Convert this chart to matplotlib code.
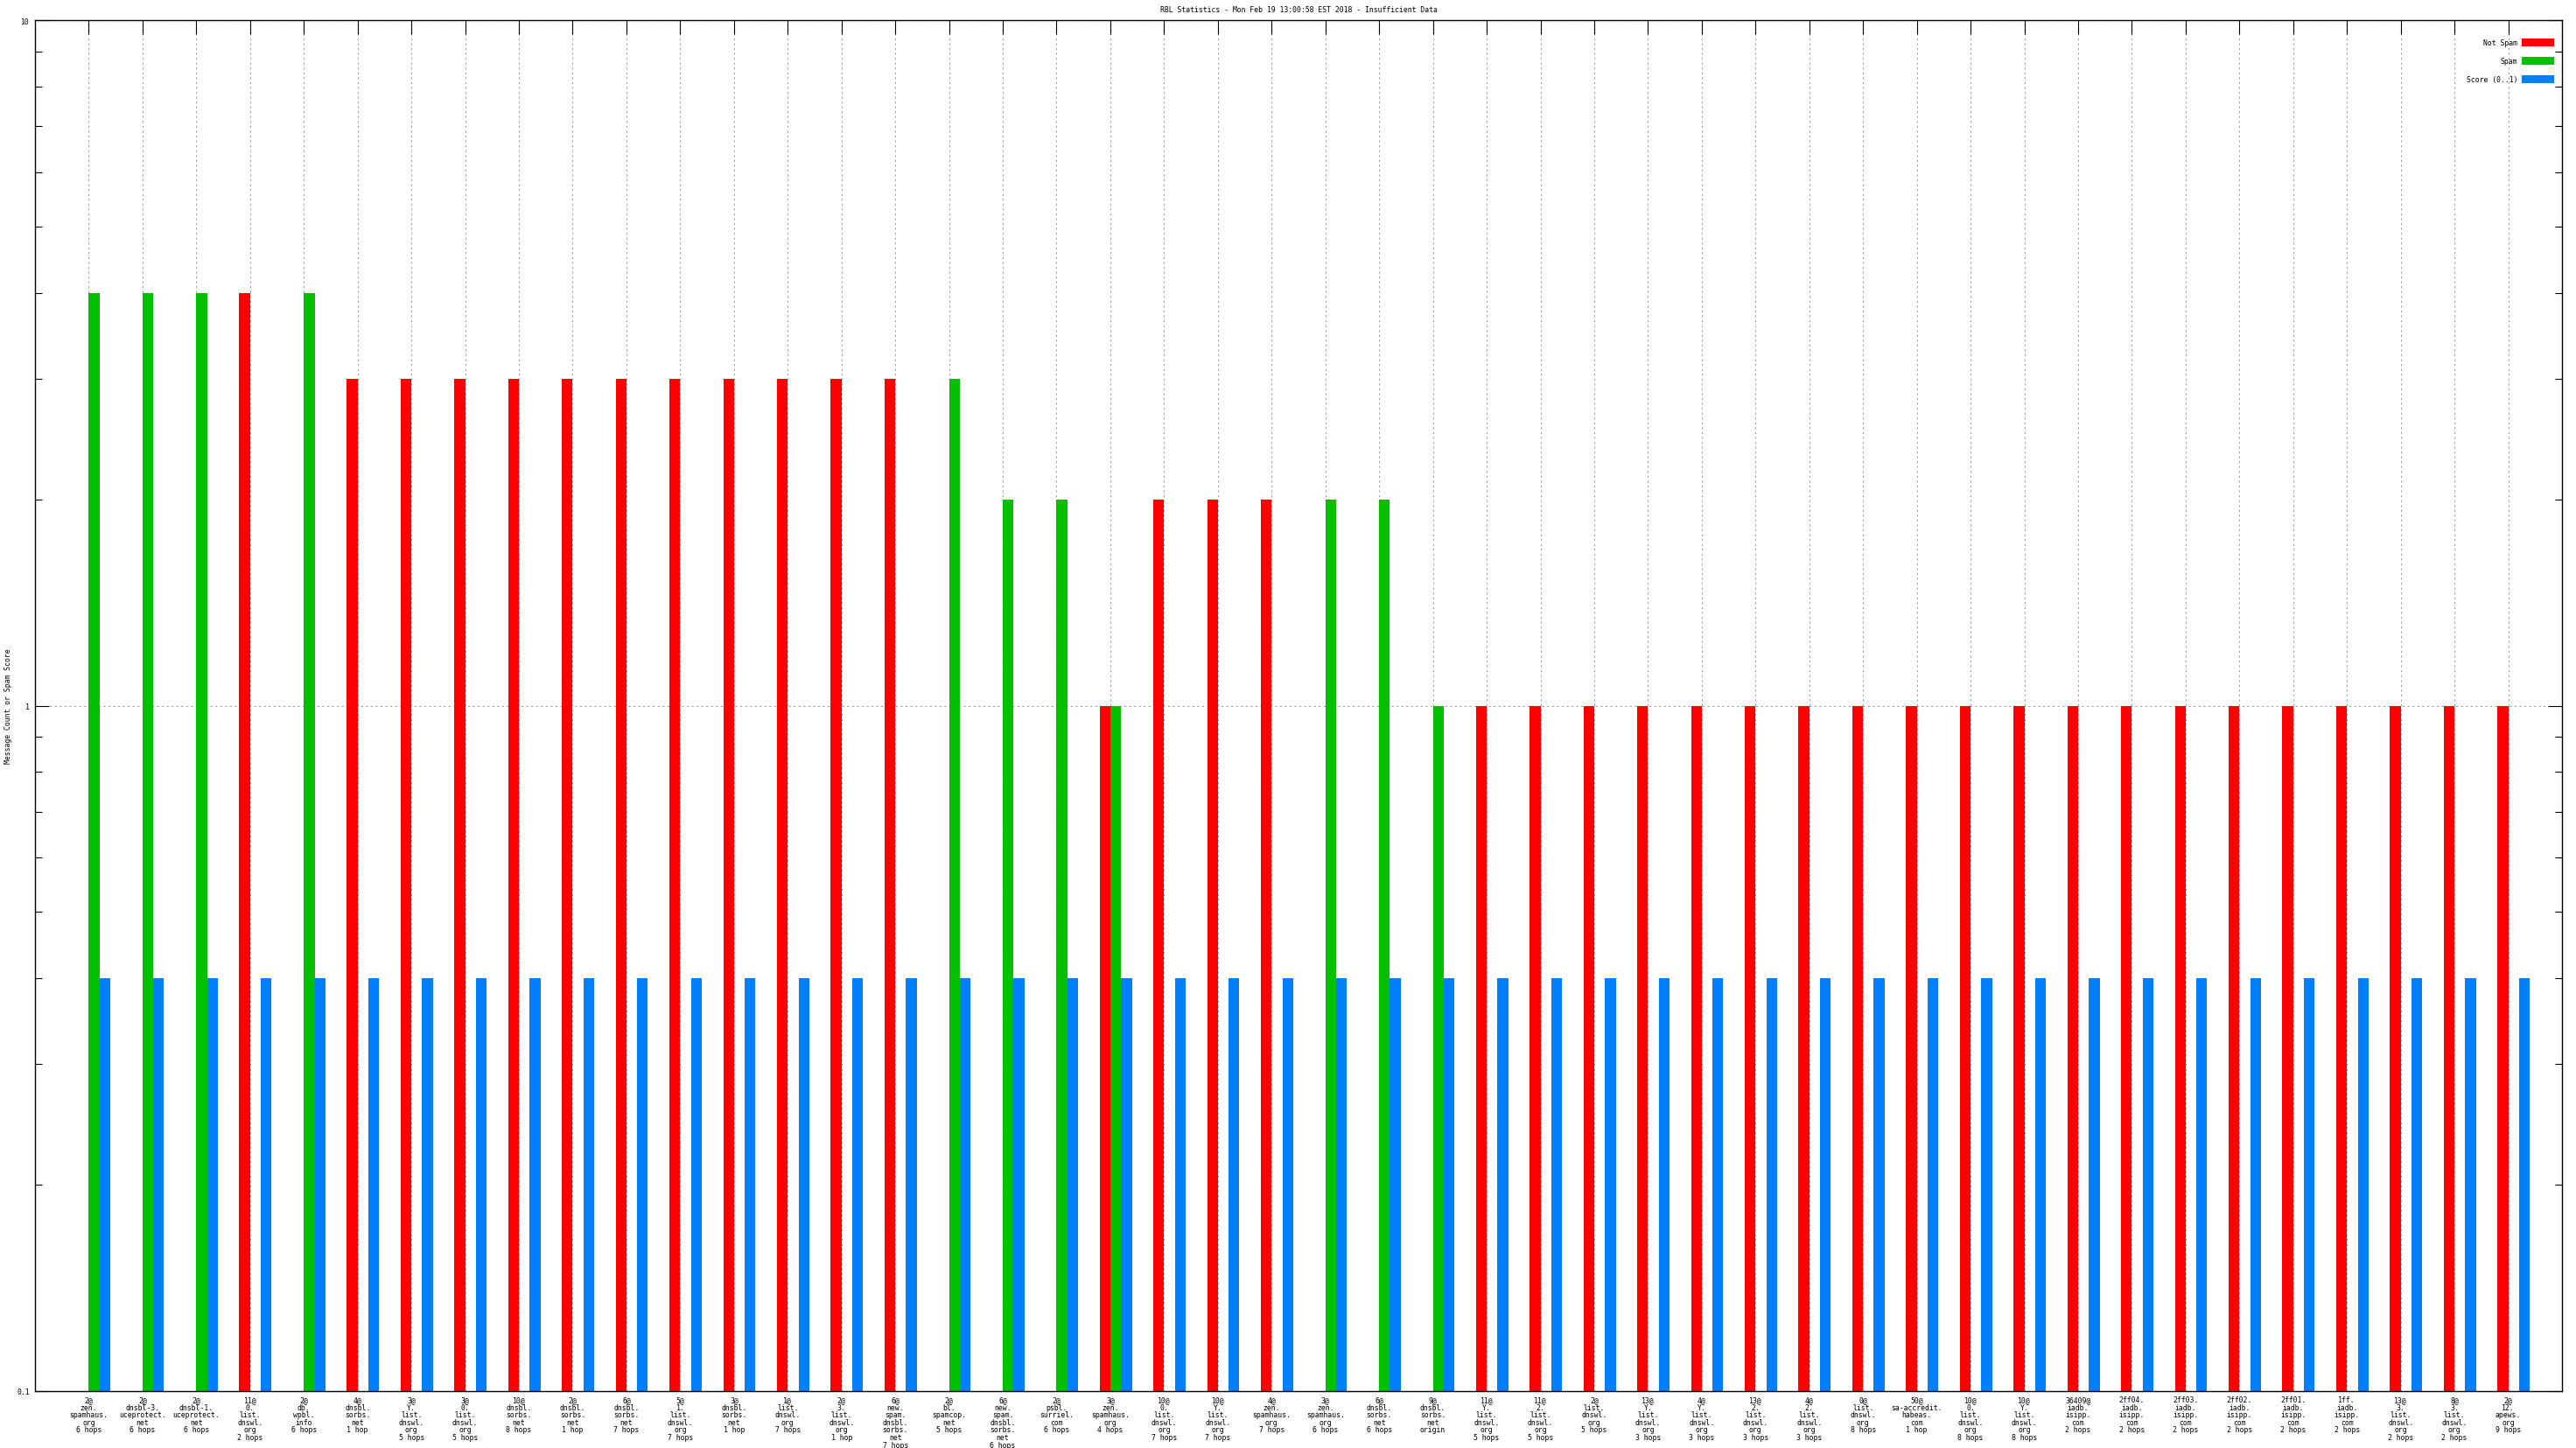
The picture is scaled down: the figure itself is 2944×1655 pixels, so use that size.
import numpy as np
import matplotlib
matplotlib.use("Agg")
import matplotlib.pyplot as plt
from matplotlib.ticker import FixedLocator, LogLocator, NullFormatter

# ---------------- data ----------------
categories = [
    "2@\nzen.\nspamhaus.\norg\n6 hops",
    "2@\ndnsbl-3.\nuceprotect.\nnet\n6 hops",
    "2@\ndnsbl-1.\nuceprotect.\nnet\n6 hops",
    "11@\n0.\nlist.\ndnswl.\norg\n2 hops",
    "2@\ndb.\nwpbl.\ninfo\n6 hops",
    "4@\ndnsbl.\nsorbs.\nnet\n1 hop",
    "3@\nY.\nlist.\ndnswl.\norg\n5 hops",
    "3@\n0.\nlist.\ndnswl.\norg\n5 hops",
    "10@\ndnsbl.\nsorbs.\nnet\n8 hops",
    "2@\ndnsbl.\nsorbs.\nnet\n1 hop",
    "6@\ndnsbl.\nsorbs.\nnet\n7 hops",
    "5@\n1.\nlist.\ndnswl.\norg\n7 hops",
    "3@\ndnsbl.\nsorbs.\nnet\n1 hop",
    "1@\nlist.\ndnswl.\norg\n7 hops",
    "2@\n3.\nlist.\ndnswl.\norg\n1 hop",
    "6@\nnew.\nspam.\ndnsbl.\nsorbs.\nnet\n7 hops",
    "2@\nbl.\nspamcop.\nnet\n5 hops",
    "6@\nnew.\nspam.\ndnsbl.\nsorbs.\nnet\n6 hops",
    "2@\npsbl.\nsurriel.\ncom\n6 hops",
    "3@\nzen.\nspamhaus.\norg\n4 hops",
    "10@\n0.\nlist.\ndnswl.\norg\n7 hops",
    "10@\nY.\nlist.\ndnswl.\norg\n7 hops",
    "4@\nzen.\nspamhaus.\norg\n7 hops",
    "3@\nzen.\nspamhaus.\norg\n6 hops",
    "6@\ndnsbl.\nsorbs.\nnet\n6 hops",
    "9@\ndnsbl.\nsorbs.\nnet\norigin",
    "11@\nY.\nlist.\ndnswl.\norg\n5 hops",
    "11@\n2.\nlist.\ndnswl.\norg\n5 hops",
    "2@\nlist.\ndnswl.\norg\n5 hops",
    "13@\nY.\nlist.\ndnswl.\norg\n3 hops",
    "4@\nY.\nlist.\ndnswl.\norg\n3 hops",
    "13@\n2.\nlist.\ndnswl.\norg\n3 hops",
    "4@\n2.\nlist.\ndnswl.\norg\n3 hops",
    "0@\nlist.\ndnswl.\norg\n8 hops",
    "50@\nsa-accredit.\nhabeas.\ncom\n1 hop",
    "10@\n0.\nlist.\ndnswl.\norg\n8 hops",
    "10@\nY.\nlist.\ndnswl.\norg\n8 hops",
    "36409@\niadb.\nisipp.\ncom\n2 hops",
    "2ff04.\niadb.\nisipp.\ncom\n2 hops",
    "2ff03.\niadb.\nisipp.\ncom\n2 hops",
    "2ff02.\niadb.\nisipp.\ncom\n2 hops",
    "2ff01.\niadb.\nisipp.\ncom\n2 hops",
    "1ff.\niadb.\nisipp.\ncom\n2 hops",
    "13@\n3.\nlist.\ndnswl.\norg\n2 hops",
    "8@\n3.\nlist.\ndnswl.\norg\n2 hops",
    "2@\n12.\napews.\norg\n9 hops",
]

not_spam = [0, 0, 0, 4, 0, 3, 3, 3, 3, 3, 3, 3, 3, 3, 3, 3,
            0, 0, 0, 1, 2, 2, 2, 0, 0, 0,
            1, 1, 1, 1, 1, 1, 1, 1, 1, 1, 1, 1, 1, 1, 1, 1, 1, 1, 1, 1]
spam = [4, 4, 4, 0, 4, 0, 0, 0, 0, 0, 0, 0, 0, 0, 0, 0,
        3, 2, 2, 1, 0, 0, 0, 2, 2, 1,
        0, 0, 0, 0, 0, 0, 0, 0, 0, 0, 0, 0, 0, 0, 0, 0, 0, 0, 0, 0]
score = [0.4, 0.4, 0.4, 0.4, 0.4, 0.4, 0.4, 0.4, 0.4, 0.4, 0.4, 0.4,
         0.4, 0.4, 0.4, 0.4, 0.4, 0.4, 0.4, 0.4, 0.4, 0.4, 0.4, 0.4,
         0.4, 0.4, 0.4, 0.4, 0.4, 0.4, 0.4, 0.4, 0.4, 0.4, 0.4, 0.4,
         0.4, 0.4, 0.4, 0.4, 0.4, 0.4, 0.4, 0.4, 0.4, 0.4]

series_names = ["Not Spam", "Spam", "Score (0..1)"]
y_ticks = [0.1, 1, 10]
y_tick_labels = ["0.1", "1", "10"]
title = "RBL Statistics - Mon Feb 19 13:00:58 EST 2018 - Insufficient Data"
y_label = "Message Count or Spam Score"

# ---------------- style ----------------
FONT = "DejaVu Sans Mono"
FS = 5.9
plt.rcParams["font.family"] = [FONT, "DejaVu Sans"]
plt.rcParams["font.size"] = FS

W, H, DPI = 2944, 1656, 100
fig = plt.figure(figsize=(W / DPI, H / DPI), dpi=DPI)
L, R, T, B = 40, 2928, 24, 1591
ax = fig.add_axes([L / W, 1 - B / H, (R - L) / W, (B - T) / H])

colors = ["#ff0000", "#00c000", "#0080ff"]
bw = 0.2
offsets = [-0.1, 0.1, 0.3]
x = np.arange(len(categories))
ymin = y_ticks[0]

for vals, off, col, name in zip([not_spam, spam, score], offsets, colors, series_names):
    v = np.array(vals, dtype=float)
    m = v > 0
    ax.bar(x[m] + off, v[m] - ymin, bottom=ymin, width=bw, color=col,
           linewidth=0, label=name, zorder=2)

ax.set_yscale("log")
ax.set_ylim(y_ticks[0], y_ticks[-1])
ax.set_xlim(-1, len(categories))

ax.yaxis.set_major_locator(FixedLocator(y_ticks))
ax.set_yticklabels(y_tick_labels)
ax.yaxis.set_minor_locator(LogLocator(base=10, subs=np.arange(2, 10)))
ax.yaxis.set_minor_formatter(NullFormatter())

ax.set_xticks(x)
ax.set_xticklabels(categories, fontsize=FS, linespacing=0.95, va="top", ha="center")

ax.tick_params(axis="x", which="major", direction="in", length=11.5, width=0.8,
               top=True, bottom=False, pad=3.5, labelsize=FS)
ax.tick_params(axis="y", which="major", direction="in", length=11.5, width=0.8,
               left=True, right=True, pad=4.3, labelsize=FS)
ax.tick_params(axis="y", which="minor", direction="in", length=5.8, width=0.8,
               left=True, right=True)

for s in ax.spines.values():
    s.set_linewidth(1.0)
    s.set_color("black")

ax.set_axisbelow(True)
ax.grid(True, axis="x", which="major", color="#a0a0a0", linestyle=(0, (2, 3)), linewidth=0.8)
ax.grid(True, axis="y", which="major", color="#a0a0a0", linestyle=(0, (2, 3)), linewidth=0.8)

fig.text((L + R) / 2 / W, 1 - 12 / H, title, ha="center", va="center", fontsize=FS)
fig.text(10 / W, 1 - (T + B) / 2 / H, y_label, rotation=90, ha="center", va="center", fontsize=FS)

leg = ax.legend(loc="upper right", bbox_to_anchor=((2919 - L) / (R - L), 1 - (45 - T) / (B - T)),
                markerfirst=False, frameon=False, fontsize=FS, borderpad=0, borderaxespad=0,
                handlelength=4.5, handleheight=1.34, handletextpad=0.6, labelspacing=1.4)

fig.savefig("out.png", dpi=DPI)
